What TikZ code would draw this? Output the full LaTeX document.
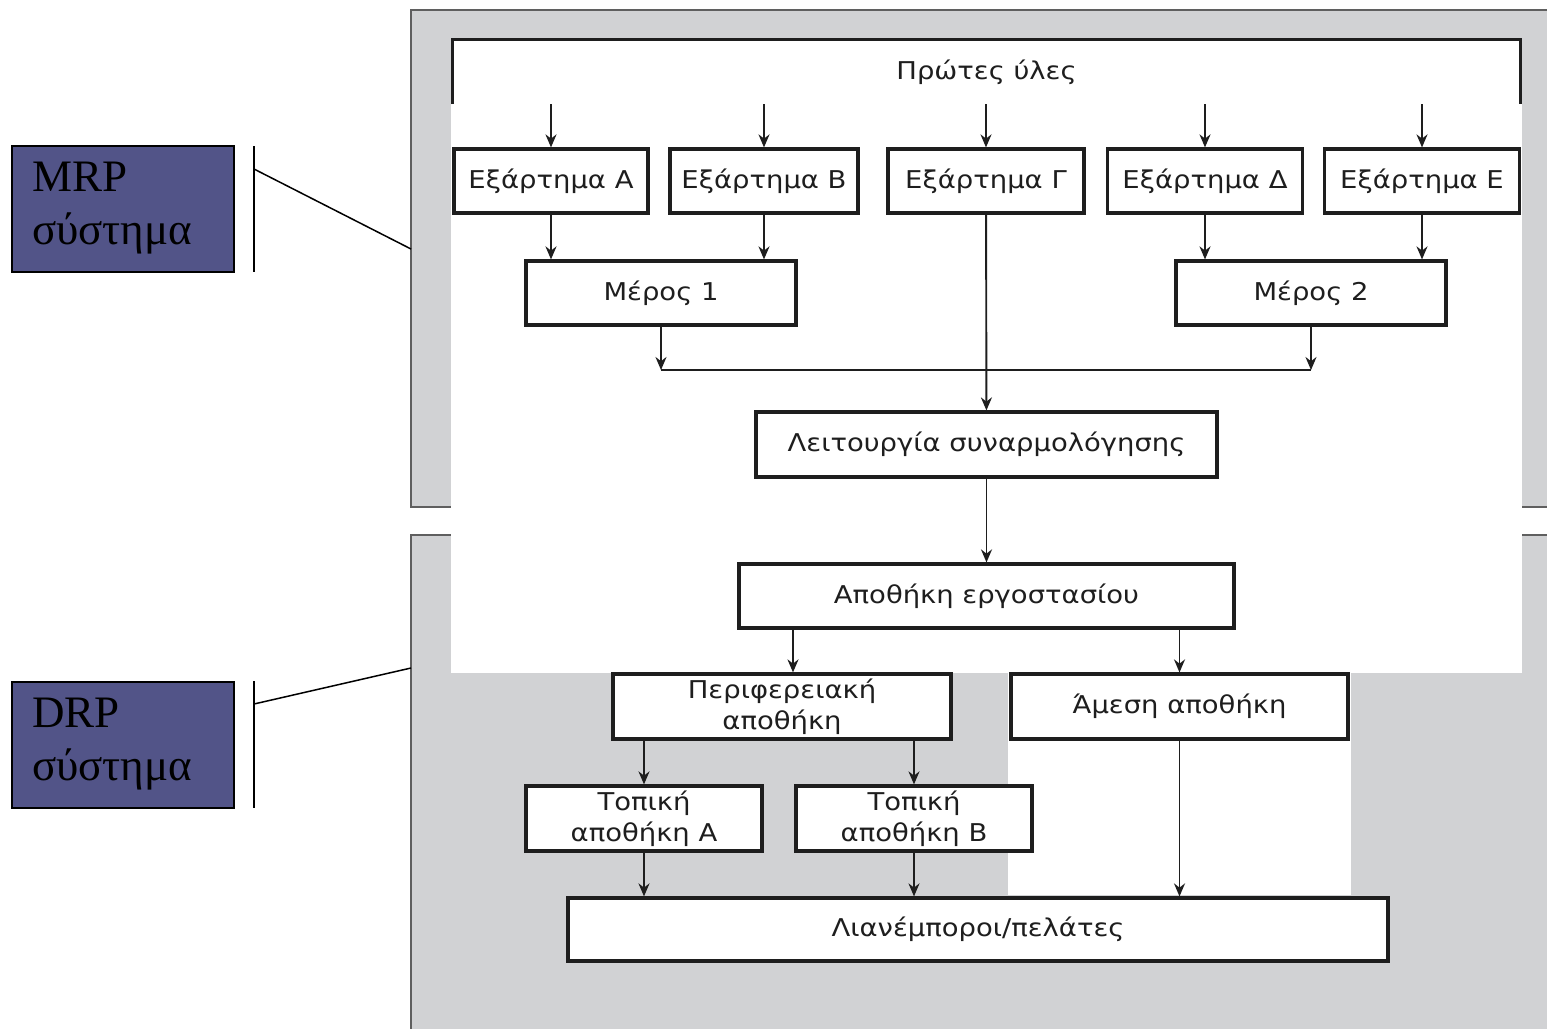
\documentclass[tikz,border=0pt]{standalone}
\usepackage{fontspec}
\setmainfont{Liberation Serif}
\newfontfamily\diagfont[FakeStretch=1.12]{DejaVu Sans}
\usetikzlibrary{arrows.meta,calc}
\definecolor{panelgray}{RGB}{209,210,212}
\definecolor{paneledge}{RGB}{95,95,95}
\definecolor{labelblue}{RGB}{82,84,136}
\definecolor{ink}{RGB}{30,30,30}
\begin{document}
\begin{tikzpicture}[x=1pt,y=-1pt,
  stepbox/.style={draw=ink, line width=3.2pt, fill=white, inner sep=0pt,
    font=\diagfont\fontsize{24.5}{31}\selectfont, text=ink, align=center},
  conn/.style={draw=ink, line width=1.9pt, -{Stealth[length=13pt,width=11pt]}},
  plainline/.style={draw=ink, line width=1.9pt},
  sysbox/.style={draw=black, line width=2pt, fill=labelblue, inner sep=0pt,
    minimum width=222pt, minimum height=126pt, text width=181pt, align=left,
    font=\fontsize{45}{53}\selectfont},
  panelfill/.style={fill=panelgray},
  paneledge/.style={draw=paneledge, line width=1.8pt},
  leader/.style={draw=black, line width=1.5pt}
]
\clip (0,0) rectangle (1547,1028);
\fill[white] (0,0) rectangle (1547,1028);

% grey panels for the two systems
\fill[panelfill] (411,10) rectangle (1600,507);
\draw[paneledge] (1600,10) -- (411,10) -- (411,507) -- (1600,507);
\fill[panelfill] (411,535) rectangle (1600,1100);
\draw[paneledge] (1600,535) -- (411,535) -- (411,1100);

% white backing of the flow chart
\fill[white] (451,102) rectangle (1522,673);
\fill[white] (1008,673) rectangle (1351,895);

% raw materials (open at the bottom)
\node[fill=white, inner sep=0pt, minimum width=1067pt, minimum height=64pt,
  font=\diagfont\fontsize{24.5}{31}\selectfont, text=ink] (raw) at (986.5,72) {Πρώτες ύλες};
\draw[draw=ink, line width=3.2pt] (raw.south west) -- (raw.north west) -- (raw.north east) -- (raw.south east);

% components
\node[stepbox, minimum width=194pt, minimum height=64pt] (compA) at (551,181) {Εξάρτημα Α};
\node[stepbox, minimum width=188pt, minimum height=64pt] (compB) at (764,181) {Εξάρτημα Β};
\node[stepbox, minimum width=196pt, minimum height=64pt] (compG) at (986,181) {Εξάρτημα Γ};
\node[stepbox, minimum width=195pt, minimum height=64pt] (compD) at (1205,181) {Εξάρτημα Δ};
\node[stepbox, minimum width=195pt, minimum height=64pt] (compE) at (1422,181) {Εξάρτημα Ε};

% parts
\node[stepbox, minimum width=270pt, minimum height=64pt] (part1) at (661,293) {Μέρος 1};
\node[stepbox, minimum width=270pt, minimum height=64pt] (part2) at (1311,293) {Μέρος 2};

% assembly and factory store
\node[stepbox, minimum width=461pt, minimum height=65pt] (assembly) at (986.5,444.5) {Λειτουργία συναρμολόγησης};
\node[stepbox, minimum width=495pt, minimum height=64pt] (factory) at (986.5,596) {Αποθήκη εργοστασίου};

% distribution
\node[stepbox, minimum width=338pt, minimum height=65pt] (regional) at (782,706.5) {Περιφερειακή\\αποθήκη};
\node[stepbox, minimum width=337pt, minimum height=65pt] (direct) at (1179.5,706.5) {Άμεση αποθήκη};
\node[stepbox, minimum width=236pt, minimum height=65pt] (localA) at (644,818.5) {Τοπική\\αποθήκη Α};
\node[stepbox, minimum width=236pt, minimum height=65pt] (localB) at (914,818.5) {Τοπική\\αποθήκη Β};
\node[stepbox, minimum width=820pt, minimum height=63pt] (retail) at (978,929.5) {Λιανέμποροι/πελάτες};

% raw materials feed the components
\foreach \c in {compA,compB,compG,compD,compE}
  \draw[conn] (\c |- raw.south) -- (\c);

% components into parts
\draw[conn] (compA) -- (compA |- part1.north);
\draw[conn] (compB) -- (compB |- part1.north);
\draw[conn] (compD) -- (compD |- part2.north);
\draw[conn] (compE) -- (compE |- part2.north);

% parts join into assembly
\coordinate (join1) at (661,370);
\coordinate (join2) at (1311,370);
\draw[conn] (part1) -- (join1);
\draw[conn] (part2) -- (join2);
\draw[plainline] (join1) -- (join2);
\draw[conn] (compG) -- (assembly);

\draw[conn] (assembly) -- (factory);
\draw[conn] ([xshift=11pt]regional.north |- factory.south) -- ([xshift=11pt]regional.north);
\draw[conn] (direct |- factory.south) -- (direct);
\draw[conn] (localA |- regional.south) -- (localA);
\draw[conn] (localB |- regional.south) -- (localB);
\draw[conn] (localA) -- (localA |- retail.north);
\draw[conn] (localB) -- (localB |- retail.north);
\draw[conn] (direct) -- (direct |- retail.north);

% system labels with their leaders
\node[sysbox] (mrp) at (122.5,208.5) {MRP\\σύστημα};
\coordinate (mrpBarTop) at (254,146);
\coordinate (mrpBarBot) at (254,272);
\coordinate (mrpFrom) at (254,169);
\coordinate (mrpTo) at (411,249);
\draw[leader] (mrpBarTop) -- (mrpBarBot);
\draw[leader] (mrpFrom) -- (mrpTo);

\node[sysbox] (drp) at (122.5,744.5) {DRP\\σύστημα};
\coordinate (drpBarTop) at (254,681);
\coordinate (drpBarBot) at (254,808);
\coordinate (drpFrom) at (254,704);
\coordinate (drpTo) at (411,668);
\draw[leader] (drpBarTop) -- (drpBarBot);
\draw[leader] (drpFrom) -- (drpTo);
\end{tikzpicture}
\end{document}
